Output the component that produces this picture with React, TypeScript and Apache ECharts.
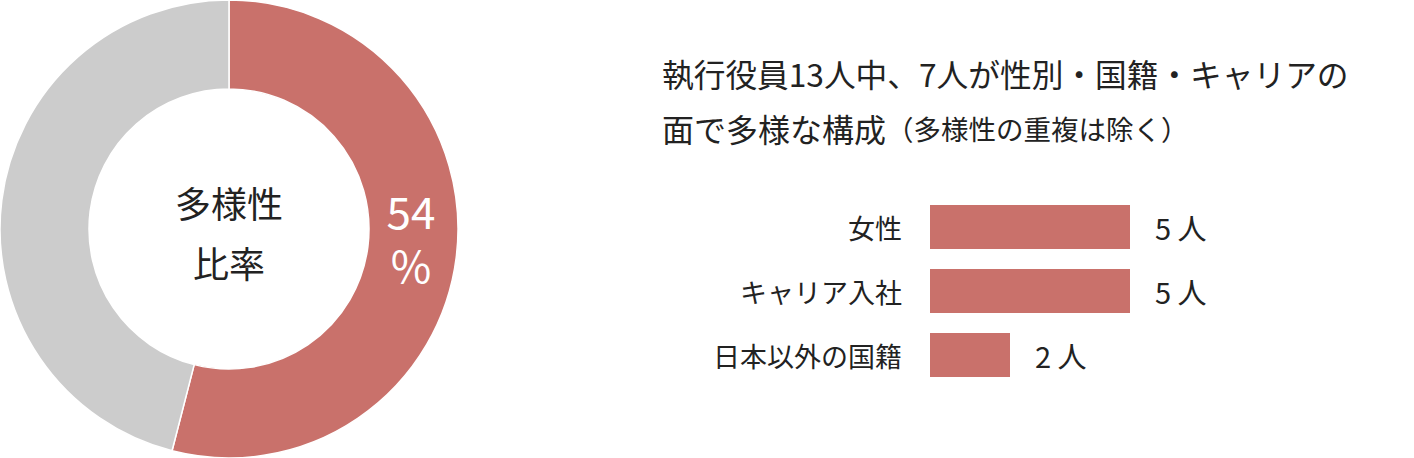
import { useEffect, useRef } from 'react';
import * as echarts from 'echarts';

// 多様性比率
const ratioLabels = ['多様性', 'その他'];
const ratioValues = [54, 46];

// 内訳
const categories = ['女性', 'キャリア入社', '日本以外の国籍'];
const counts = [5, 5, 2];

const titleLine1 = '執行役員13人中、7人が性別・国籍・キャリアの';
const titleLine2Main = '面で多様な構成';
const titleLine2Note = '（多様性の重複は除く）';
const centerText = '多様性\n比率';

const RED = '#C9716B';
const GRAY = '#CCCCCC';
const TEXT = '#222222';
const FONT = '"Noto Sans CJK JP", "Noto Sans", sans-serif';

export default function App() {
  const chartRef = useRef<HTMLDivElement>(null);

  useEffect(() => {
    if (!chartRef.current) return;
    const chart = echarts.init(chartRef.current, undefined, { renderer: 'svg' });
    const option: echarts.EChartsOption = {
      animation: false,
      textStyle: { fontFamily: FONT },
      graphic: [
        {
          type: 'text',
          x: 229,
          y: 232,
          z: 100,
          style: {
            text: centerText,
            align: 'center',
            verticalAlign: 'middle',
            fontSize: 36,
            lineHeight: 60,
            fill: TEXT,
            fontFamily: FONT,
          },
        } as any,
        {
          type: 'text',
          x: 662,
          y: 73,
          z: 100,
          style: {
            text: titleLine1,
            verticalAlign: 'middle',
            fontSize: 31.7,
            fill: TEXT,
            fontFamily: FONT,
          },
        },
        {
          type: 'text',
          x: 662,
          y: 128,
          z: 100,
          style: {
            text: `{a|${titleLine2Main}}{b|${titleLine2Note}}`,
            verticalAlign: 'middle',
            fill: TEXT,
            fontFamily: FONT,
            rich: {
              a: { fontSize: 32, fill: TEXT, fontFamily: FONT },
              b: { fontSize: 27.5, fill: TEXT, fontFamily: FONT },
            },
          } as any,
        },
      ],
      grid: { left: 930, top: 195, width: 200, height: 192 },
      xAxis: {
        type: 'value',
        min: 0,
        max: 5,
        show: false,
      },
      yAxis: {
        type: 'category',
        inverse: true,
        data: categories,
        axisLine: { show: false },
        axisTick: { show: false },
        axisLabel: { margin: 28, fontSize: 27, color: TEXT, fontFamily: FONT },
      },
      series: [
        {
          type: 'pie',
          center: [229, 229],
          radius: [140, 229],
          startAngle: 90,
          clockwise: true,
          silent: true,
          itemStyle: { borderColor: '#ffffff', borderWidth: 1.5 },
          label: { show: false },
          labelLine: { show: false },
          data: ratioLabels.map((name, i) => ({
            name,
            value: ratioValues[i],
            itemStyle: { color: i === 0 ? RED : GRAY },
            label:
              i === 0
                ? {
                    show: true,
                    position: 'inside',
                    formatter: '{c}\n%',
                    color: '#ffffff',
                    fontSize: 44,
                    lineHeight: 54,
                    fontFamily: FONT,
                    offset: [-4, -16],
                  }
                : { show: false },
          })),
        },
        {
          type: 'bar',
          data: counts,
          barWidth: 44,
          itemStyle: { color: RED },
          label: {
            show: true,
            position: 'right',
            distance: 25,
            formatter: '{c} 人',
            fontSize: 29,
            color: TEXT,
            fontFamily: FONT,
          },
        },
      ],
    };
    chart.setOption(option);
    return () => chart.dispose();
  }, []);

  return (
    <div
      ref={chartRef}
      style={{ position: 'absolute', left: 0, top: 0, width: '1414px', height: '458px' }}
    />
  );
}
